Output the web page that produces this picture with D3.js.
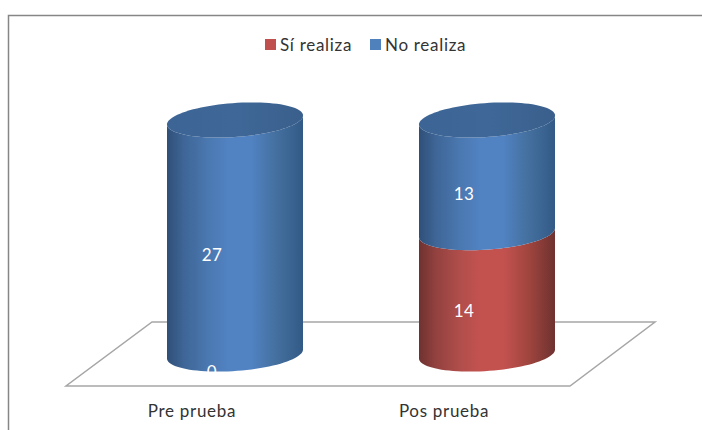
<!DOCTYPE html>
<html>
<head>
<meta charset="utf-8">
<script src="https://cdn.jsdelivr.net/npm/d3@7.9.0/dist/d3.min.js"></script>
<style>
  html, body { margin: 0; padding: 0; background: #fff; }
  svg { display: block; }
  text { font-family: Lato, "Open Sans", sans-serif; }
</style>
</head>
<body>
<div id="chart"></div>
<script>
const categories = ['Pre prueba', 'Pos prueba'];
const siRealiza = [0, 14];
const noRealiza = [27, 13];
const seriesNames = ['Sí realiza', 'No realiza'];

const width = 702;
const height = 430;
const radiusX = 68;
const radiusY = 17;
const tilt = 0.066;

const xScale = d3.scalePoint().domain(categories).range([235, 487]);
const yScale = d3.scaleLinear().domain([0, 27]).range([354, 120]);

const svg = d3.select('#chart').append('svg')
  .attr('width', width)
  .attr('height', height);

const defs = svg.append('defs');

function addGradient(id, stops) {
  const g = defs.append('linearGradient').attr('id', id)
    .attr('x1', 0).attr('x2', 1).attr('y1', 0).attr('y2', 0);
  stops.forEach(([o, c]) => g.append('stop').attr('offset', o).attr('stop-color', c));
}
addGradient('blue', [[0, '#2f4f78'], [0.12, '#3e6596'], [0.3, '#4a78b0'], [0.45, '#5182c2'], [0.62, '#5182c2'], [0.8, '#44709f'], [1, '#335a87']]);
addGradient('red', [[0, '#6e3230'], [0.12, '#92413f'], [0.3, '#b04e4b'], [0.45, '#c3524f'], [0.62, '#c3524f'], [0.8, '#a2453f'], [1, '#6e3230']]);
addGradient('cap', [[0, '#3c6494'], [0.5, '#3f6898'], [1, '#3a5f8c']]);

svg.append('rect')
  .attr('x', 8.5).attr('y', 15.5)
  .attr('width', width).attr('height', height)
  .attr('fill', '#fff').attr('stroke', '#868686').attr('stroke-width', 1.5);

// floor of the 3d plot
const floorBack = yScale(0) - 32;
const floorFront = yScale(0) + 32;
const floor = d3.path();
floor.moveTo(152, floorBack);
floor.lineTo(655, floorBack);
floor.lineTo(570, floorFront);
floor.lineTo(66, floorFront);
floor.closePath();
svg.append('path').attr('d', floor.toString())
  .attr('fill', '#fff').attr('stroke', '#a6a6a6').attr('stroke-width', 1.5);

// point on the tilted rim ellipse, t in radians
function rim(cx, cy, t) {
  const dx = radiusX * Math.cos(t);
  return [cx + dx, cy + radiusY * Math.sin(t) - tilt * dx];
}

const rimLine = d3.line();

// side of a cylinder segment: front half of bottom rim, front half of top rim reversed
function sidePath(cx, y0, y1) {
  const angles = d3.range(0, 181, 4).map((a) => a * Math.PI / 180);
  const bottom = angles.map((t) => rim(cx, y0, t));
  const top = angles.slice().reverse().map((t) => rim(cx, y1, t));
  return rimLine([...bottom, ...top]) + 'Z';
}

function capPath(cx, cy) {
  const pts = d3.range(0, 360, 4).map((a) => rim(cx, cy, a * Math.PI / 180));
  return rimLine(pts) + 'Z';
}

const marks = svg.append('g');

categories.forEach((cat, i) => {
  const cx = xScale(cat);
  const si = siRealiza[i];
  const no = noRealiza[i];
  if (si > 0) {
    marks.append('path').attr('d', sidePath(cx, yScale(0), yScale(si))).attr('fill', 'url(#red)');
  }
  marks.append('path').attr('d', sidePath(cx, yScale(si), yScale(si + no))).attr('fill', 'url(#blue)');
  marks.append('path').attr('d', capPath(cx, yScale(si + no))).attr('fill', 'url(#cap)');
});

// value labels, white, including the zero at the base
const labels = svg.append('g')
  .attr('fill', '#fff')
  .attr('font-size', 17)
  .attr('letter-spacing', 0.5)
  .attr('text-anchor', 'middle');

categories.forEach((cat, i) => {
  const x = xScale(cat) - 23;
  const si = siRealiza[i];
  const no = noRealiza[i];
  labels.append('text').attr('x', x).attr('y', yScale(si / 2) + 24).text(si);
  labels.append('text').attr('x', x).attr('y', yScale(si + no / 2) + 24).text(no);
});

// category labels
svg.append('g')
  .attr('fill', '#333')
  .attr('font-size', 17)
  .attr('letter-spacing', 0.7)
  .attr('text-anchor', 'middle')
  .selectAll('text')
  .data(categories)
  .join('text')
  .attr('x', (d) => xScale(d) - 43)
  .attr('y', 417)
  .text((d) => d);

// legend
const legendColor = d3.scaleOrdinal().domain(seriesNames).range(['#c0504d', '#4f81bd']);
const legendX = d3.scaleOrdinal().domain(seriesNames).range([265, 370]);

const legend = svg.append('g').selectAll('g')
  .data(seriesNames)
  .join('g')
  .attr('transform', (d) => `translate(${legendX(d)},39)`);

legend.append('rect')
  .attr('width', 11).attr('height', 11)
  .attr('fill', (d) => legendColor(d));

legend.append('text')
  .attr('x', 15).attr('y', 11.5)
  .attr('font-size', 17)
  .attr('letter-spacing', 0.7)
  .attr('fill', '#333')
  .text((d) => d);
</script>
</body>
</html>
